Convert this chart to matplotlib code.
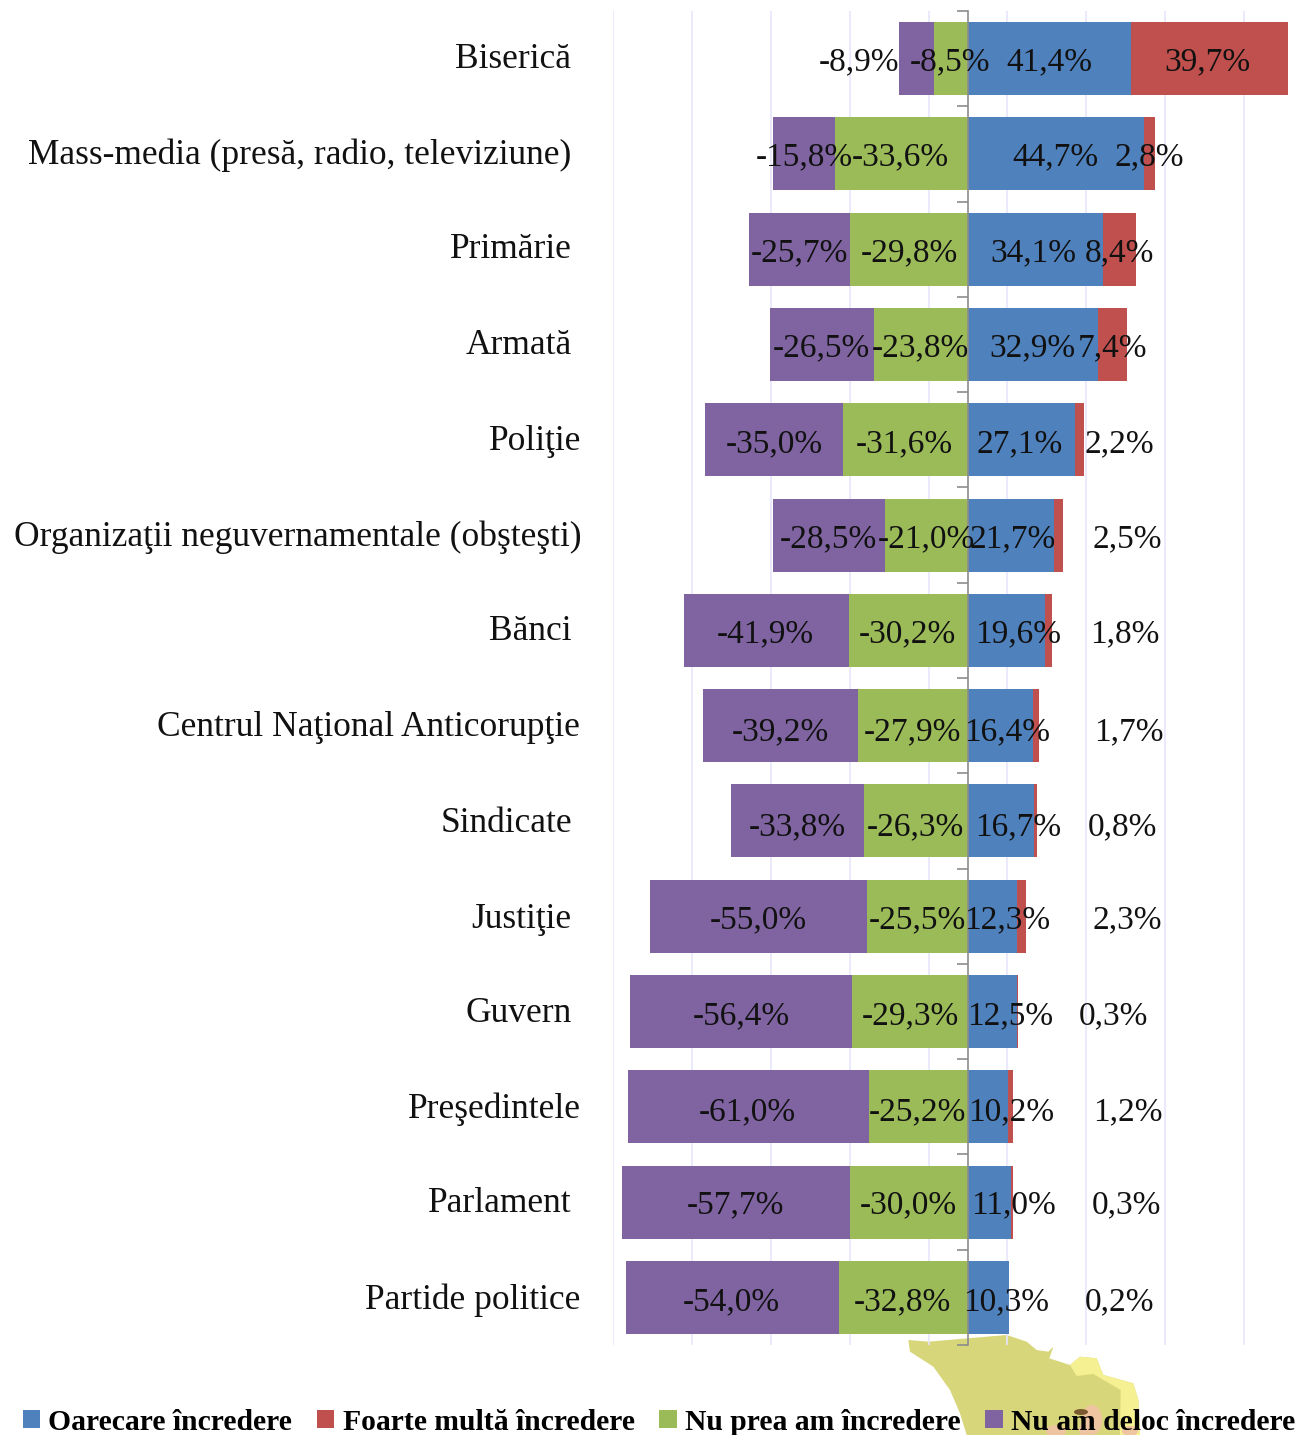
import matplotlib
matplotlib.use("Agg")
import matplotlib.pyplot as plt
import numpy as np
from matplotlib.patches import Polygon, Ellipse
from matplotlib.transforms import blended_transform_factory

categories = ["Biserică", "Mass-media (presă, radio, televiziune)", "Primărie", "Armată", "Poliţie",
              "Organizaţii neguvernamentale (obşteşti)", "Bănci", "Centrul Naţional Anticorupţie",
              "Sindicate", "Justiţie", "Guvern", "Preşedintele", "Parlament", "Partide politice"]
oarecare = [41.4, 44.7, 34.1, 32.9, 27.1, 21.7, 19.6, 16.4, 16.7, 12.3, 12.5, 10.2, 11.0, 10.3]
foarte = [39.7, 2.8, 8.4, 7.4, 2.2, 2.5, 1.8, 1.7, 0.8, 2.3, 0.3, 1.2, 0.3, 0.2]
nu_prea = [-8.5, -33.6, -29.8, -23.8, -31.6, -21.0, -30.2, -27.9, -26.3, -25.5, -29.3, -25.2, -30.0, -32.8]
nu_deloc = [-8.9, -15.8, -25.7, -26.5, -35.0, -28.5, -41.9, -39.2, -33.8, -55.0, -56.4, -61.0, -57.7, -54.0]
series_names = ["Oarecare încredere", "Foarte multă încredere", "Nu prea am încredere", "Nu am deloc încredere"]
colors = ["#4F81BD", "#C0504D", "#9BBB59", "#8064A2"]

# label centres in pixels, as placed in the original chart
oarecare_cx = [1049, 1055, 1033, 1032, 1020, 1013, 1018, 1007, 1018, 1007, 1010, 1011, 1013, 1006]
foarte_cx = [1207, 1149, 1119, 1112, 1119, 1127, 1125, 1129, 1122, 1127, 1113, 1128, 1126, 1120]
nu_prea_cx = [950, 900, 909, 920, 904, 926, 907, 912, 915, 917, 910, 917, 908, 902]
nu_deloc_cx = [859, 804, 799, 821, 774, 828, 765, 780, 797, 758, 741, 747, 735, 731]
label_cy = [62, 157, 253, 348, 444, 539, 634, 732, 827, 920, 1016, 1112, 1205, 1302]
cat_right = [571, 571, 572, 572, 581, 581, 571, 580, 572, 571, 572, 581, 572, 580]
cat_cy = [59, 155, 250, 346, 441, 537, 632, 728, 823, 919, 1013, 1109, 1204, 1300]

W, H = 1306, 1435
SERIF = ["Liberation Serif", "DejaVu Serif"]
plt.rcParams["font.family"] = SERIF
fig = plt.figure(figsize=(W / 100, H / 100), dpi=100, facecolor="white")

def P(pts):
    return [(x / W, 1 - y / H) for x, y in pts]

# decorative map behind the chart
Z = lambda pts: [(880 + x / 3, 1300 + y / 3) for x, y in pts]
map_dark = Z([(85, 120), (145, 125), (380, 105), (440, 125), (470, 150), (505, 155), (520, 140), (508, 175),
              (570, 195), (600, 170), (650, 175), (670, 225), (760, 250), (775, 300), (780, 405), (260, 405),
              (240, 340), (210, 270), (160, 200), (90, 155)])
map_light = Z([(570, 195), (600, 170), (650, 175), (670, 225), (760, 250), (775, 300), (780, 405), (720, 405),
               (722, 270), (640, 222), (590, 228)])
fig.add_artist(Polygon(P(map_dark), closed=True, transform=fig.transFigure, fc="#D8D67A", ec="none", zorder=-5))
fig.add_artist(Polygon(P(map_light), closed=True, transform=fig.transFigure, fc="#F5F091", ec="none", zorder=-4))
for cx, cy, w, h in [(1092, 1420, 20, 30), (1056, 1431, 20, 12), (1130, 1431, 16, 10), (1084, 1430, 10, 14)]:
    fig.add_artist(Ellipse((cx / W, 1 - cy / H), w / W, h / H, transform=fig.transFigure,
                           fc="#EFC4A0", ec="none", zorder=-3))
fig.add_artist(Ellipse((1081 / W, 1 - 1412 / H), 14 / W, 6 / H, transform=fig.transFigure,
                       fc="#7A5A30", ec="none", zorder=-2))

left, right, top, bottom = 613, 1306, 11, 1345
ax = fig.add_axes([left / W, 1 - bottom / H, (right - left) / W, (bottom - top) / H])
ax.patch.set_alpha(0)
scale = (968 - 613) / 90
ax.set_xlim(-90, (right - 968) / scale)
ax.set_ylim(len(categories) - 0.5, -0.5)

y = np.arange(len(categories))
h = 73 / 95.3
oa, fo, np_, nd = map(np.array, (oarecare, foarte, nu_prea, nu_deloc))
ax.barh(y, oa, h, color=colors[0], label=series_names[0], zorder=2)
ax.barh(y, fo, h, left=oa, color=colors[1], label=series_names[1], zorder=2)
ax.barh(y, np_, h, color=colors[2], label=series_names[2], zorder=2)
ax.barh(y, nd, h, left=np_, color=colors[3], label=series_names[3], zorder=2)

ax.set_xticks(np.arange(-90, 90, 20))
ax.tick_params(axis="x", length=0, labelbottom=False)
ax.grid(axis="x", color="#E6E6FC", lw=1.2, zorder=0)
ax.set_axisbelow(True)
for s in ("top", "right", "bottom"):
    ax.spines[s].set_visible(False)
ax.spines["left"].set_position(("data", 0))
ax.spines["left"].set_color("#8C8C8C")
ax.spines["left"].set_linewidth(1.2)
ax.spines["left"].set_zorder(3)
ax.set_yticks([])
ax.set_yticks(np.arange(-0.5, len(categories)), minor=True)
ax.tick_params(axis="y", which="minor", length=8, width=1.2, color="#8C8C8C", labelleft=False)

fmt = lambda v: f"{v:.1f}%".replace(".", ",")
FS = 24
CAT_FS = 25.5
def pct(v, base, cx, cy, row):
    bx, by = ax.transData.transform((base, row))
    ax.annotate(fmt(v), xy=(base, row), xytext=(cx - bx, (H - cy) - by), textcoords="offset pixels",
                ha="center", va="center", fontsize=FS, color="#111111", zorder=5, clip_on=False)
for i in y:
    pct(oa[i], oa[i] / 2, oarecare_cx[i], label_cy[i], i)
    pct(fo[i], oa[i] + fo[i] / 2, foarte_cx[i], label_cy[i], i)
    pct(np_[i], np_[i] / 2, nu_prea_cx[i], label_cy[i], i)
    pct(nd[i], np_[i] + nd[i] / 2, nu_deloc_cx[i], label_cy[i], i)

trans = blended_transform_factory(ax.transAxes, ax.transData)
for i, c in enumerate(categories):
    _, by = ax.transData.transform((0, i))
    ax.annotate(c, xy=(0, i), xycoords=trans, xytext=(cat_right[i] - left, (H - cat_cy[i]) - by),
                textcoords="offset pixels", ha="right", va="center", fontsize=CAT_FS, color="#111111",
                annotation_clip=False)

leg = fig.legend(*ax.get_legend_handles_labels(), loc="center left", bbox_to_anchor=(23 / W, 1 - 1422 / H),
                 ncol=4, frameon=False, borderaxespad=0, borderpad=0, handlelength=0.58, handleheight=0.58,
                 handletextpad=0.28, columnspacing=0.84, prop={"family": SERIF, "weight": "bold", "size": 21.3})
fig.savefig("out.png", dpi=100)
